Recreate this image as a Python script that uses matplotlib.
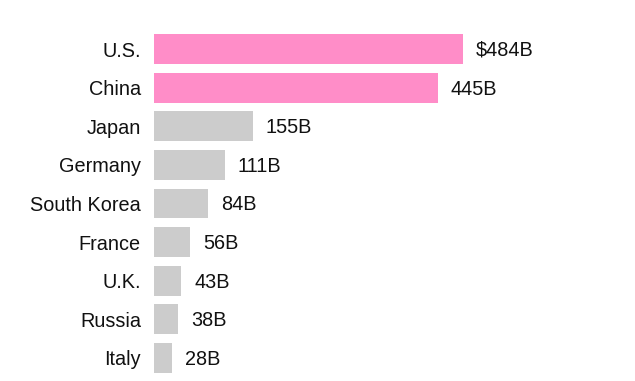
import matplotlib
matplotlib.use("Agg")
import matplotlib.pyplot as plt

countries = ["U.S.", "China", "Japan", "Germany", "South Korea", "France", "U.K.", "Russia", "Italy"]
values = [484, 445, 155, 111, 84, 56, 43, 38, 28]
labels = ["$484B", "445B", "155B", "111B", "84B", "56B", "43B", "38B", "28B"]
colors = ["#ff8dc8", "#ff8dc8"] + ["#cccccc"] * 7

plt.rcParams["font.family"] = ["Liberation Sans", "DejaVu Sans"]

fig = plt.figure(figsize=(6.35, 3.81), dpi=100)
ax = fig.add_axes([154 / 635, 0.0, 1 - 154 / 635, 0.932])

ypos = list(range(len(countries)))
ax.barh(ypos, values, height=0.77, color=colors)
for y, v, lab in zip(ypos, values, labels):
    ax.annotate(lab, (v, y), xytext=(9.4, -1), textcoords="offset points",
                va="center", ha="left", fontsize=14.3, color="#111111")

ax.set_xlim(0, 754)
ax.set_ylim(8.6, -0.6)
ax.set_yticks(ypos)
ax.set_yticklabels(countries, fontsize=14.3, color="#111111")
ax.tick_params(axis="y", length=0, pad=9.4)
ax.set_xticks([])
for s in ax.spines.values():
    s.set_visible(False)

fig.savefig("out.png", dpi=100)
